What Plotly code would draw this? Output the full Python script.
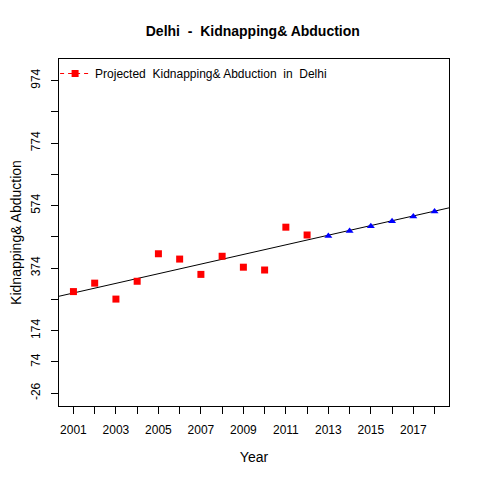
import numpy as np
import plotly.graph_objects as go

# observed counts (red squares)
years_obs = [2001, 2002, 2003, 2004, 2005, 2006, 2007, 2008, 2009, 2010, 2011, 2012]
cases_obs = [299, 326, 275, 332, 420, 403, 354, 412, 377, 368, 505, 480]

# projected counts (blue triangles)
years_proj = [2013, 2014, 2015, 2016, 2017, 2018]
cases_proj = [477, 493, 508, 524, 539, 555]

# axis ticks
x_ticks = list(range(2001, 2019))
x_labels = [str(y) if y % 2 == 1 else "" for y in x_ticks]
y_ticks = [-26, 74, 174, 274, 374, 474, 574, 674, 774, 874, 974]
y_labels = ["-26", "74", "174", "", "374", "", "574", "", "774", "", "974"]

x_range = [2000.32, 2018.68]
y_range = [-67, 1043]

slope, intercept = np.polyfit(years_obs, cases_obs, 1)
trend_x = np.array(x_range)
trend_y = intercept + slope * trend_x

font = "Liberation Sans, Arial, sans-serif"

fig = go.Figure()
fig.add_trace(go.Scatter(
    x=trend_x, y=trend_y, mode="lines",
    line=dict(color="black", width=1), showlegend=False, hoverinfo="skip",
))
fig.add_trace(go.Scatter(
    x=years_obs, y=cases_obs, mode="markers",
    marker=dict(symbol="square", size=7, color="#ff0000"), showlegend=False,
))
fig.add_trace(go.Scatter(
    x=years_proj, y=cases_proj, mode="markers",
    marker=dict(symbol="triangle-up", size=7, color="#0000ff"), showlegend=False,
))
# legend entry only
fig.add_trace(go.Scatter(
    x=[None], y=[None], mode="lines+markers",
    name="Projected  Kidnapping& Abduction  in  Delhi",
    line=dict(color="#ff0000", width=1, dash="4px,4px"),
    marker=dict(symbol="square", size=7, color="#ff0000"),
))

# the page body adds an 8px offset, margins below account for it
fig.update_layout(
    width=480, height=480,
    margin=dict(l=51, r=39, t=51, b=82),
    paper_bgcolor="white", plot_bgcolor="white",
    font=dict(family=font, size=12, color="black"),
    title=dict(
        text="<b>Delhi  -  Kidnapping& Abduction</b>",
        x=0.51, xanchor="center", y=0.952, yanchor="middle",
        font=dict(size=14),
    ),
    legend=dict(
        x=-0.01, y=1.0, xanchor="left", yanchor="top",
        bgcolor="rgba(0,0,0,0)", font=dict(size=12), itemwidth=30,
    ),
    xaxis=dict(
        range=x_range, tickmode="array", tickvals=x_ticks, ticktext=x_labels,
        ticks="outside", ticklen=7, tickcolor="black", showgrid=False, zeroline=False,
        showline=True, linecolor="black", linewidth=1, mirror=True,
        ticklabelstandoff=6, automargin=False,
        title=dict(text="Year", standoff=15),
    ),
    yaxis=dict(
        range=y_range, tickmode="array", tickvals=y_ticks, ticktext=y_labels,
        tickangle=-90,
        ticks="outside", ticklen=7, tickcolor="black", showgrid=False, zeroline=False,
        showline=True, linecolor="black", linewidth=1, mirror=True,
        ticklabelstandoff=6, automargin=False,
        title=dict(text="Kidnapping& Abduction", standoff=11),
    ),
)

fig.write_html("out.html")
